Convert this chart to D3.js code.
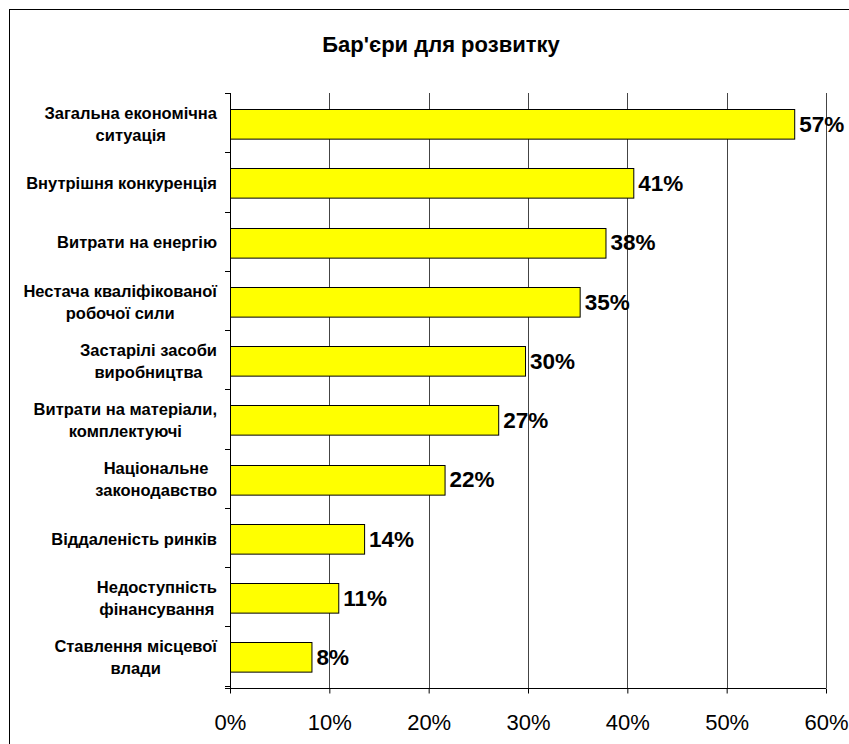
<!DOCTYPE html>
<html>
<head>
<meta charset="utf-8">
<script src="https://cdn.jsdelivr.net/npm/d3@7"></script>
<style>
  body { margin: 0; background: #fff; }
  svg { display: block; font-family: "Liberation Sans", Arial, sans-serif; }
</style>
</head>
<body>
<div class="canvas"></div>
<script>
const categories = [
  ["Загальна економічна", "ситуація"],
  ["Внутрішня конкуренція"],
  ["Витрати на енергію"],
  ["Нестача кваліфікованої", "робочої сили"],
  ["Застарілі засоби", "виробництва"],
  ["Витрати на матеріали,", "комплектуючі"],
  ["Національне", "законодавство"],
  ["Віддаленість ринків"],
  ["Недоступність", "фінансування"],
  ["Ставлення місцевої", "влади"]
];
const values = [56.8, 40.6, 37.8, 35.2, 29.7, 27.0, 21.6, 13.5, 10.9, 8.2];
const labels = ["57%", "41%", "38%", "35%", "30%", "27%", "22%", "14%", "11%", "8%"];
const xTicks = [0, 10, 20, 30, 40, 50, 60];

const width = 849, height = 744;
const svg = d3.select(".canvas").append("svg")
  .attr("width", width).attr("height", height);

// outer chart border (right/bottom fall outside the picture)
svg.append("rect")
  .attr("x", 9.5).attr("y", 9.5)
  .attr("width", 900).attr("height", 800)
  .attr("fill", "none").attr("stroke", "#000");

svg.append("text")
  .attr("x", 441).attr("y", 52)
  .attr("text-anchor", "middle")
  .attr("font-size", 22).attr("font-weight", "bold")
  .text("Бар'єри для розвитку");

const plotLeft = 230, plotRight = 826, plotTop = 93, plotBottom = 688;

let xScale = d3.scaleLinear().domain([0, 60]).range([plotLeft, plotRight]);
let yScale = d3.scaleBand()
  .domain(categories.map((c, i) => i))
  .range([plotTop, plotBottom])
  .paddingInner(0.5)
  .paddingOuter(0.27);
let bandStep = yScale.step();

// gridlines
svg.selectAll("line.grid").data(xTicks.slice(1)).enter().append("line")
  .attr("class", "grid")
  .attr("x1", d => Math.round(xScale(d)) + 0.5).attr("x2", d => Math.round(xScale(d)) + 0.5)
  .attr("y1", plotTop).attr("y2", plotBottom)
  .attr("stroke", "#444");

// bars
svg.selectAll("rect.bar").data(values).enter().append("rect")
  .attr("class", "bar")
  .attr("x", xScale(0) + 0.5)
  .attr("y", (d, i) => Math.round(yScale(i)) + 0.5)
  .attr("width", d => xScale(d) - xScale(0))
  .attr("height", yScale.bandwidth())
  .attr("fill", "#ffff00")
  .attr("stroke", "#000");

// value labels
svg.selectAll("text.val").data(values).enter().append("text")
  .attr("class", "val")
  .attr("x", d => xScale(d) + 5)
  .attr("y", (d, i) => yScale(i) + yScale.bandwidth() / 2 + 8)
  .attr("font-size", 22.5).attr("font-weight", "bold")
  .text((d, i) => labels[i]);

// x axis
let xAxis = d3.axisBottom(xScale)
  .tickValues(xTicks)
  .tickSize(5)
  .tickPadding(14)
  .tickFormat(d => d + "%");
let gx = svg.append("g").attr("transform", `translate(0,${plotBottom + 0.5})`).call(xAxis);
gx.select(".domain").attr("d", `M${plotLeft - 5},0H${plotRight}`);
gx.selectAll("text")
  .attr("font-size", 22)
  .attr("font-family", "Liberation Sans, Arial, sans-serif")
  .attr("fill", "#000")
  .attr("dy", null)
  .attr("y", 729 - plotBottom);

// y axis line and category ticks
svg.append("line")
  .attr("x1", plotLeft + 0.5).attr("x2", plotLeft + 0.5)
  .attr("y1", plotTop).attr("y2", plotBottom)
  .attr("stroke", "#000");
svg.selectAll("line.ytick").data(d3.range(categories.length + 1)).enter().append("line")
  .attr("class", "ytick")
  .attr("x1", plotLeft - 5).attr("x2", plotLeft)
  .attr("y1", d => Math.round(plotTop + d * bandStep) + 0.5)
  .attr("y2", d => Math.round(plotTop + d * bandStep) + 0.5)
  .attr("stroke", "#000");

// category labels: lines centred within their block, block right-aligned to the axis
const catRight = 217, lineH = 22;
categories.forEach((lines, i) => {
  let cy = yScale(i) + yScale.bandwidth() / 2;
  let g = svg.append("g");
  let texts = lines.map((line, j) => g.append("text")
    .attr("font-size", 16.5).attr("font-weight", "bold")
    .attr("text-anchor", "middle")
    .attr("y", cy + (j - (lines.length - 1) / 2) * lineH + 6)
    .text(line));
  let maxW = d3.max(texts, t => t.node().getComputedTextLength());
  texts.forEach(t => t.attr("x", catRight - maxW / 2));
});
</script>
</body>
</html>
